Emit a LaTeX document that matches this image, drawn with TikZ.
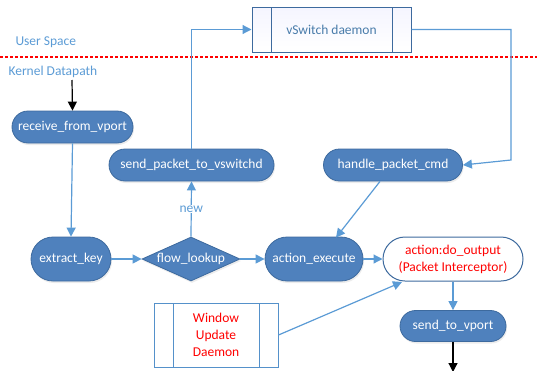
\documentclass[tikz,border=0pt]{standalone}
\usepackage{fontspec}
\setmainfont{Carlito}
\usetikzlibrary{shapes.geometric,shapes.misc,arrows.meta,shadows,calc}
\definecolor{nodefill}{HTML}{4F81BD}
\definecolor{nodeedge}{HTML}{3D6A9E}
\definecolor{arrowblue}{HTML}{5B9BD5}
\definecolor{labelblue}{HTML}{5B9BD5}
\begin{document}
\begin{tikzpicture}[x=1pt,y=-1pt,
  font=\fontsize{13.5}{17}\selectfont,
  pill/.style={rounded rectangle, draw=nodeedge, fill=nodefill, text=white, inner sep=0pt, line width=0.8pt,
     drop shadow={opacity=0.15, shadow xshift=1pt, shadow yshift=-2pt}},
  flow/.style={draw=arrowblue, line width=1.2pt, -{Triangle[length=9pt,width=9pt]}},
  blk/.style={draw=black, line width=1.2pt, -{Triangle[length=9pt,width=9pt]}},
  procbox/.style={draw=nodeedge, line width=1pt, inner sep=0pt}
]
\useasboundingbox (0,0) rectangle (537,370);
% separator
\draw[red, line width=1.3pt, dash pattern=on 3pt off 2pt] (0,57) -- (537,57);
\node[text=labelblue, anchor=west] (us) at (12,42) {User Space};
\node[text=labelblue, anchor=west] (kd) at (5,72) {Kernel Datapath};

% vSwitch daemon
\node[procbox, minimum width=159pt, minimum height=45pt, top color=blue!4, bottom color=white, text=labelblue!80!black] (vs) at (331.5,29.5) {vSwitch daemon};
\draw[nodeedge, line width=1pt] (271,7) -- (271,52) (392,7) -- (392,52);

% nodes
\node[pill, minimum width=121pt, minimum height=32pt] (rv) at (72.5,127) {receive\_from\_vport};
\node[pill, minimum width=165pt, minimum height=32pt] (sp) at (191.5,165) {send\_packet\_to\_vswitchd};
\node[pill, minimum width=139pt, minimum height=32pt] (hp) at (393,165) {handle\_packet\_cmd};
\node[pill, minimum width=80pt, minimum height=44pt] (ek) at (71,259) {extract\_key};
\node[diamond, aspect=2.2, draw=nodeedge, fill=nodefill, text=white, inner sep=0pt, minimum width=98pt, minimum height=44pt, line width=0.8pt, drop shadow={opacity=0.15, shadow xshift=1pt, shadow yshift=-2pt}] (fl) at (191,259) {flow\_lookup};
\node[pill, minimum width=98pt, minimum height=44pt] (ae) at (314,259) {action\_execute};
\node[rounded rectangle, draw=nodeedge, fill=white, text=red, line width=1pt, minimum width=140pt, minimum height=44pt, inner sep=0pt, align=center] (do) at (453,259) {action:do\_output\\(Packet Interceptor)};
\node[pill, minimum width=106pt, minimum height=31pt] (sv) at (453,326) {send\_to\_vport};

% window update daemon
\node[procbox, draw=arrowblue!80!nodeedge, minimum width=124pt, minimum height=64pt, text=red, align=center] (wu) at (216,335) {Window\\Update\\Daemon};
\draw[arrowblue!80!nodeedge, line width=1pt] (173,303) -- (173,367) (259,303) -- (259,367);

% connectors
\coordinate (top) at (72,80);
\coordinate (bot) at (453,372);
\coordinate (hpout) at ($(hp.south)+(-13,0)$);
\coordinate (aein) at ($(ae.north)+(22,1)$);
\coordinate (doin) at (402,282);
\coordinate (corner) at (511,160);
\draw[blk] (top) -- (rv.north);
\draw[blk] (sv.south) -- (bot);
\draw[flow] (rv.south) -- (ek.north);
\draw[flow] (ek.east) -- (fl.west);
\draw[flow] (fl.north) -- node[fill=white, text=labelblue, inner sep=1pt] (nw) {new} (sp.south);
\draw[flow] (fl.east) -- (ae.west);
\draw[flow] (hpout) -- (aein);
\draw[flow] (ae.east) -- (do.west);
\draw[flow] (do.south) -- (sv.north);
\draw[flow] (wu.east) -- (doin);
\draw[flow] (sp.north) |- (vs.west);
\draw[flow] (vs.east) -| (corner) -- (hp.east);
\end{tikzpicture}
\end{document}
